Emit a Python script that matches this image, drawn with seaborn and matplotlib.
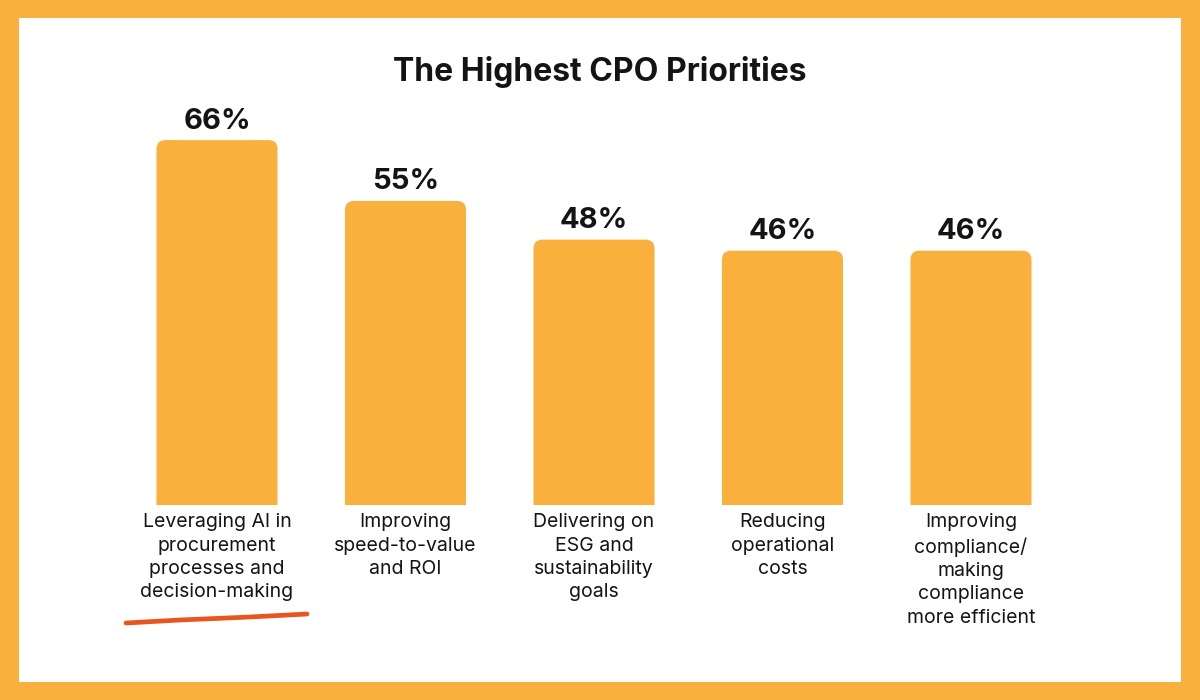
import matplotlib
matplotlib.use("Agg")
import matplotlib.pyplot as plt
import seaborn as sns
import pandas as pd
from matplotlib.patches import FancyBboxPatch, Rectangle
from matplotlib.lines import Line2D

categories = [
    "Leveraging AI in\nprocurement\nprocesses and\ndecision-making",
    "Improving\nspeed-to-value\nand ROI",
    "Delivering on\nESG and\nsustainability\ngoals",
    "Reducing\noperational\ncosts",
    "Improving\ncompliance/\nmaking\ncompliance\nmore efficient",
]
values = [66, 55, 48, 46, 46]

ORANGE = "#F9B03D"
ACCENT = "#E8561F"
TEXT = "#141414"

sns.set_theme(style="white")
plt.rcParams["font.family"] = ["Inter", "DejaVu Sans"]

df = pd.DataFrame({"Priority": categories, "Share": values})

fig = plt.figure(figsize=(12, 7), dpi=100)
fig.patch.set_facecolor(ORANGE)
# white card inside the orange frame
fig.patches.append(Rectangle((19 / 1200, 18 / 700), 1162 / 1200, 664 / 700,
                             transform=fig.transFigure, facecolor="white",
                             edgecolor="none", zorder=-5))

ax = fig.add_axes([122.75 / 1200, 195 / 700, 942.5 / 1200, 387 / 700])
ax.set_facecolor("none")

sns.barplot(data=df, x="Priority", y="Share", color=ORANGE, width=0.642,
            saturation=1, ax=ax)
ax.set_xlim(-0.5, 4.5)
ax.set_ylim(0, 70)

ax.bar_label(ax.containers[0], labels=[f"{v}%" for v in values], padding=4,
             fontsize=21, fontweight="bold", color=TEXT)

# swap plain bars for ones with rounded tops
fig.canvas.draw()
px_x = ax.transData.transform((1, 0))[0] - ax.transData.transform((0, 0))[0]
px_y = ax.transData.transform((0, 1))[1] - ax.transData.transform((0, 0))[1]
r = 9 / px_x
for bar in ax.containers[0]:
    bar.set_visible(False)
    x, w, h = bar.get_x(), bar.get_width(), bar.get_height()
    ax.add_patch(FancyBboxPatch((x, -5), w, h + 5,
                                boxstyle=f"round,pad=0,rounding_size={r}",
                                mutation_aspect=px_x / px_y,
                                facecolor=ORANGE, edgecolor="none"))

ax.set_xlabel("")
ax.set_ylabel("")
ax.set_yticks([])
ax.tick_params(axis="x", length=0, pad=6, labelsize=14, labelcolor=TEXT)
for lbl in ax.get_xticklabels():
    lbl.set_linespacing(1.38)
    lbl.set_multialignment("center")
sns.despine(ax=ax, left=True, bottom=True)

fig.text(0.5, 1 - 81 / 700, "The Highest CPO Priorities", ha="center",
         va="baseline", fontsize=23, fontweight="bold", color=TEXT)

# hand-drawn underline under the first label
fig.add_artist(Line2D([126 / 1200, 180 / 1200, 250 / 1200, 307 / 1200],
                      [1 - 623 / 700, 1 - 620 / 700, 1 - 617 / 700, 1 - 614 / 700],
                      transform=fig.transFigure, color=ACCENT, linewidth=3.4,
                      solid_capstyle="round", solid_joinstyle="round"))

fig.savefig("out.png", dpi=100, facecolor=fig.get_facecolor())
